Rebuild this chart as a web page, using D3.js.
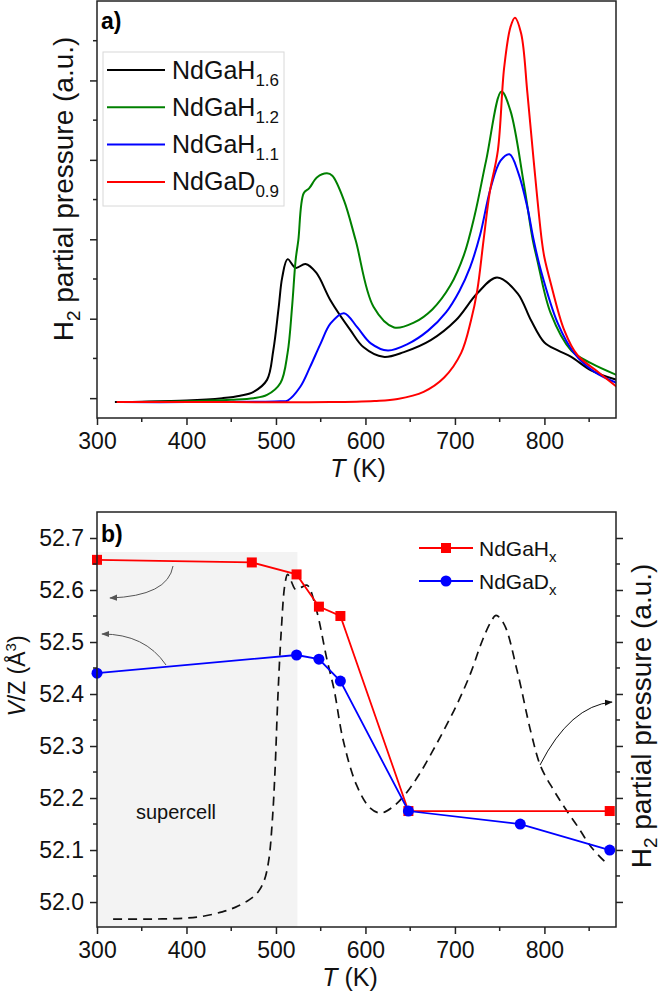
<!DOCTYPE html>
<html>
<head>
<meta charset="utf-8">
<script src="https://cdn.jsdelivr.net/npm/d3@7"></script>
<style>
  body { margin: 0; background: #fff; }
  svg { display: block; font-family: Arial, 'Liberation Sans', sans-serif; }
</style>
</head>
<body>
<div id="chart"></div>
<script>
// panel a: H2 partial pressure curves [T (K), a.u.]
const ndGaH16 = [[320, -0.05], [350, -0.045], [400, -0.03], [440, 0.0], [460, 0.03], [475, 0.08], [490, 0.23], [497, 0.6], [503, 1.14],
    [507, 1.52], [513, 1.75], [522, 1.64], [533, 1.69], [545, 1.58], [561, 1.23], [583, 0.86], [598, 0.64], [620, 0.52], [643, 0.58],
    [673, 0.73], [701, 0.98], [725, 1.32], [747, 1.52], [770, 1.32], [785, 0.98], [800, 0.7], [815, 0.6], [830, 0.52], [852, 0.35], [881, 0.23]]
const ndGaH12 = [[325, -0.05], [400, -0.04], [450, -0.02], [475, 0.0], [490, 0.04], [505, 0.19], [513, 0.57], [518, 1.15], [522, 1.74],
    [525, 1.99], [531, 2.58], [537, 2.64], [546, 2.78], [557, 2.83], [563, 2.8], [576, 2.49], [589, 1.99], [609, 1.15], [632, 0.89],
    [654, 0.95], [675, 1.12], [695, 1.42], [710, 1.8], [722, 2.3], [735, 3.0], [752, 3.86], [762, 3.62], [777, 2.7], [787, 1.99],
    [792, 1.74], [807, 1.07], [830, 0.6], [852, 0.44], [881, 0.29]]
const ndGaH11 = [[325, -0.05], [400, -0.05], [480, -0.045], [505, -0.04], [513, -0.03], [527, 0.14], [538, 0.39], [550, 0.69], [561, 0.94],
    [576, 1.07], [591, 0.89], [606, 0.69], [625, 0.6], [647, 0.68], [670, 0.85], [690, 1.08], [705, 1.35], [717, 1.65], [728, 2.05],
    [740, 2.65], [751, 2.99], [761, 3.07], [771, 2.83], [781, 2.4], [788, 1.99], [796, 1.61], [815, 0.94], [833, 0.57], [856, 0.33], [881, 0.19]]
const ndGaD09 = [[322, -0.05], [450, -0.05], [561, -0.05], [610, -0.035], [636, -0.01], [665, 0.08], [688, 0.26], [707, 0.57], [718, 0.98],
    [725, 1.36], [732, 1.99], [739, 2.6], [748, 3.12], [755, 4.16], [762, 4.67], [767, 4.79], [774, 4.59], [781, 3.84], [788, 2.99],
    [797, 1.99], [800, 1.77], [807, 1.45], [822, 0.86], [837, 0.54], [860, 0.33], [881, 0.14]]

const seriesA = [
    { name: 'NdGaH', sub: '1.6', color: '#000000', data: ndGaH16 },
    { name: 'NdGaH', sub: '1.2', color: '#008000', data: ndGaH12 },
    { name: 'NdGaH', sub: '1.1', color: '#0000ff', data: ndGaH11 },
    { name: 'NdGaD', sub: '0.9', color: '#ff0000', data: ndGaD09 }
]

// panel b: V/Z (Å^3) vs T
const hydrideT = [300, 473, 523, 548, 572, 648, 873]
const hydrideVZ = [52.658, 52.653, 52.63, 52.568, 52.55, 52.175, 52.175]
const deuterideT = [300, 523, 548, 572, 648, 773, 873]
const deuterideVZ = [52.44, 52.475, 52.467, 52.425, 52.175, 52.15, 52.1]

// panel b dashed H2 pressure curve (right axis, a.u.)
const dashedCurve = [[318, -0.33], [360, -0.33], [400, -0.31], [420, -0.27], [440, -0.19], [455, -0.1], [470, 0.04], [480, 0.19],
    [487, 0.42], [492, 0.81], [496, 1.58], [499, 2.54], [502, 3.89], [506, 5.24], [510, 6.11], [513, 6.3], [517, 6.17], [522, 6.01],
    [528, 6.05], [535, 6.09], [545, 5.63], [557, 4.66], [565, 4.08], [575, 3.12], [590, 2.25], [605, 1.81], [617, 1.71], [630, 1.82],
    [645, 2.08], [660, 2.45], [675, 2.9], [690, 3.38], [705, 3.9], [718, 4.42], [730, 5.0], [740, 5.38], [746, 5.51], [755, 5.34],
    [770, 4.41], [785, 3.26], [796, 2.6], [810, 2.16], [822, 1.83], [838, 1.43], [852, 1.06], [869, 0.75]]

const supercellRange = [300, 524]
const supercellTop = 52.673
const xTicks = [300, 400, 500, 600, 700, 800]

const width = 661, height = 994
const svg = d3.select('#chart').append('svg')
    .attr('width', width)
    .attr('height', height)
svg.append('rect').attr('width', width).attr('height', height).attr('fill', '#fff')

const axisColor = '#222'
const defs = svg.append('defs')
function arrowMarker (id, color) {
    defs.append('marker')
        .attr('id', id)
        .attr('viewBox', '0 0 10 10')
        .attr('refX', 9).attr('refY', 5)
        .attr('markerWidth', 8).attr('markerHeight', 8)
        .attr('markerUnits', 'userSpaceOnUse')
        .attr('orient', 'auto')
        .append('path')
        .attr('d', 'M0,1 L10,5 L0,9 Z')
        .attr('fill', color)
}
arrowMarker('arrGray', '#555')
arrowMarker('arrBlack', '#111')

function styleAxis (g) {
    g.selectAll('path, line').attr('stroke', axisColor).attr('stroke-width', 1.5)
    g.selectAll('text').attr('fill', '#111').style('font-size', '23px').style('font-family', 'Arial, Liberation Sans, sans-serif')
}

// minor ticks helper
function minorTicks (g, scale, values, orient, len) {
    values.forEach(v => {
        const p = scale(v)
        const l = g.append('line').attr('stroke', axisColor).attr('stroke-width', 1.5)
        if (orient === 'left') l.attr('x1', 0).attr('x2', -len).attr('y1', p).attr('y2', p)
        if (orient === 'right') l.attr('x1', 0).attr('x2', len).attr('y1', p).attr('y2', p)
        if (orient === 'bottom') l.attr('x1', p).attr('x2', p).attr('y1', 0).attr('y2', len)
    })
}

// ================= panel a =================
const xa = d3.scaleLinear().domain([300, 880]).range([97, 616])
const ya = d3.scaleLinear().domain([-0.25, 5.0]).range([418, 1])

defs.append('clipPath').attr('id', 'clipA').append('rect')
    .attr('x', xa(300)).attr('y', ya(5.0)).attr('width', xa(880) - xa(300)).attr('height', ya(-0.25) - ya(5.0))

const pa = svg.append('g')
const lineA = d3.line().x(d => xa(d[0])).y(d => ya(d[1])).curve(d3.curveCatmullRom.alpha(0.5))

pa.append('g').attr('clip-path', 'url(#clipA)')
    .selectAll('path').data(seriesA).join('path')
    .attr('d', d => lineA(d.data))
    .attr('fill', 'none')
    .attr('stroke', d => d.color)
    .attr('stroke-width', 2)

// frame
pa.append('rect').attr('x', xa(300)).attr('y', ya(5.0)).attr('width', xa(880) - xa(300)).attr('height', ya(-0.25) - ya(5.0))
    .attr('fill', 'none').attr('stroke', axisColor).attr('stroke-width', 1.5)

const axBa = pa.append('g').attr('transform', `translate(0,${ya(-0.25)})`)
    .call(d3.axisBottom(xa).tickValues(xTicks).tickSize(7).tickPadding(8).tickFormat(d3.format('d')))
axBa.select('.domain').remove()
minorTicks(axBa, xa, [350, 450, 550, 650, 750, 850], 'bottom', 4)
styleAxis(axBa)

const axLa = pa.append('g').attr('transform', `translate(${xa(300)},0)`)
    .call(d3.axisLeft(ya).tickValues([0, 1, 2, 3, 4]).tickSize(7).tickFormat(''))
axLa.select('.domain').remove()
minorTicks(axLa, ya, [0.5, 1.5, 2.5, 3.5, 4.5], 'left', 4)
styleAxis(axLa)

pa.append('text').attr('x', 101).attr('y', 29).attr('font-weight', 'bold').attr('font-size', 23).text('a)')

// y label
const yla = pa.append('text').attr('transform', 'translate(73,189) rotate(-90)')
    .attr('text-anchor', 'middle').attr('font-size', 28).attr('fill', '#111')
yla.append('tspan').text('H')
yla.append('tspan').attr('font-size', 19).attr('dy', 7).text('2')
yla.append('tspan').attr('dy', -7).text(' partial pressure (a.u.)')

const xla = pa.append('text').attr('x', 358).attr('y', 477).attr('text-anchor', 'middle').attr('font-size', 25).attr('fill', '#111')
xla.append('tspan').attr('font-style', 'italic').text('T')
xla.append('tspan').text(' (K)')

// legend a
const lega = pa.append('g')
lega.append('rect').attr('x', 103).attr('y', 52).attr('width', 181).attr('height', 154)
    .attr('fill', '#fff').attr('stroke', '#d8d8d8').attr('stroke-width', 1)
seriesA.forEach((s, i) => {
    const ly = 70 + i * 37.3
    lega.append('line').attr('x1', 107).attr('x2', 165).attr('y1', ly).attr('y2', ly)
        .attr('stroke', s.color).attr('stroke-width', 2)
    const t = lega.append('text').attr('x', 172).attr('y', ly + 8.5).attr('font-size', 25).attr('fill', '#111')
    t.append('tspan').text(s.name)
    t.append('tspan').attr('font-size', 17).attr('dy', 7).text(s.sub)
})

// ================= panel b =================
const xb = d3.scaleLinear().domain([300, 880]).range([97, 616])
const yb = d3.scaleLinear().domain([51.952, 52.75]).range([927, 512])
const yR = d3.scaleLinear().domain([-0.482, 7.5]).range([927, 512])

const pb = svg.append('g')

// supercell shading
pb.append('rect')
    .attr('x', xb(supercellRange[0])).attr('y', yb(supercellTop))
    .attr('width', xb(supercellRange[1]) - xb(supercellRange[0]))
    .attr('height', yb(51.952) - yb(supercellTop))
    .attr('fill', '#f3f3f3')

pb.append('text').attr('x', 136).attr('y', 819).attr('font-size', 20).attr('fill', '#111').text('supercell')

// dashed H2 curve
const lineR = d3.line().x(d => xb(d[0])).y(d => yR(d[1])).curve(d3.curveCatmullRom.alpha(0.5))
pb.append('path').attr('d', lineR(dashedCurve))
    .attr('fill', 'none').attr('stroke', '#111').attr('stroke-width', 1.7).attr('stroke-dasharray', '9,6')

// arrows
const arrows = [
    { path: 'M173,566 Q168,596 110,598', marker: 'arrGray', color: '#555' },
    { path: 'M166,665 Q145,634 102,634', marker: 'arrGray', color: '#555' },
    { path: 'M540,765 Q570,706 612,702', marker: 'arrBlack', color: '#111' }
]
pb.selectAll('path.arrow').data(arrows).join('path').attr('class', 'arrow')
    .attr('d', d => d.path).attr('fill', 'none').attr('stroke', d => d.color).attr('stroke-width', 1)
    .attr('marker-end', d => `url(#${d.marker})`)

const lineB = d3.line().x(d => xb(d[0])).y(d => yb(d[1]))
const hydride = hydrideT.map((t, i) => [t, hydrideVZ[i]])
const deuteride = deuterideT.map((t, i) => [t, deuterideVZ[i]])

pb.append('path').attr('d', lineB(hydride)).attr('fill', 'none').attr('stroke', '#ff0000').attr('stroke-width', 1.8)
pb.selectAll('rect.sq').data(hydride).join('rect').attr('class', 'sq')
    .attr('x', d => xb(d[0]) - 5).attr('y', d => yb(d[1]) - 5).attr('width', 10).attr('height', 10)
    .attr('fill', '#ff0000')

pb.append('path').attr('d', lineB(deuteride)).attr('fill', 'none').attr('stroke', '#0000ff').attr('stroke-width', 1.8)
pb.selectAll('circle.dot').data(deuteride).join('circle').attr('class', 'dot')
    .attr('cx', d => xb(d[0])).attr('cy', d => yb(d[1])).attr('r', 5.5)
    .attr('fill', '#0000ff')

// frame
pb.append('rect').attr('x', xb(300)).attr('y', yb(52.75)).attr('width', xb(880) - xb(300)).attr('height', yb(51.952) - yb(52.75))
    .attr('fill', 'none').attr('stroke', axisColor).attr('stroke-width', 1.5)

const axBb = pb.append('g').attr('transform', `translate(0,${yb(51.952)})`)
    .call(d3.axisBottom(xb).tickValues(xTicks).tickSize(7).tickPadding(8).tickFormat(d3.format('d')))
axBb.select('.domain').remove()
minorTicks(axBb, xb, [350, 450, 550, 650, 750, 850], 'bottom', 4)
styleAxis(axBb)

const axLb = pb.append('g').attr('transform', `translate(${xb(300)},0)`)
    .call(d3.axisLeft(yb).tickValues([52.0, 52.1, 52.2, 52.3, 52.4, 52.5, 52.6, 52.7]).tickSize(7).tickPadding(6).tickFormat(d3.format('.1f')))
axLb.select('.domain').remove()
minorTicks(axLb, yb, [52.05, 52.15, 52.25, 52.35, 52.45, 52.55, 52.65], 'left', 4)
styleAxis(axLb)

const axRb = pb.append('g').attr('transform', `translate(${xb(880)},0)`)
    .call(d3.axisRight(yR).tickValues([0, 1, 2, 3, 4, 5, 6, 7]).tickSize(7).tickFormat(''))
axRb.select('.domain').remove()
minorTicks(axRb, yR, [0.5, 1.5, 2.5, 3.5, 4.5, 5.5, 6.5], 'right', 4)
styleAxis(axRb)

pb.append('text').attr('x', 101).attr('y', 542).attr('font-weight', 'bold').attr('font-size', 23).text('b)')

const ylb = pb.append('text').attr('transform', 'translate(25,676) rotate(-90)')
    .attr('text-anchor', 'middle').attr('font-size', 23).attr('fill', '#111')
ylb.append('tspan').attr('font-style', 'italic').text('V')
ylb.append('tspan').text('/Z (Å')
ylb.append('tspan').attr('font-size', 15).attr('dy', -9).text('3')
ylb.append('tspan').attr('dy', 9).text(')')

const yrb = pb.append('text').attr('transform', 'translate(651,716) rotate(-90)')
    .attr('text-anchor', 'middle').attr('font-size', 28).attr('fill', '#111')
yrb.append('tspan').text('H')
yrb.append('tspan').attr('font-size', 19).attr('dy', 6).text('2')
yrb.append('tspan').attr('dy', -6).text(' partial pressure (a.u.)')

const xlb = pb.append('text').attr('x', 350).attr('y', 986).attr('text-anchor', 'middle').attr('font-size', 25).attr('fill', '#111')
xlb.append('tspan').attr('font-style', 'italic').text('T')
xlb.append('tspan').text(' (K)')

// legend b
const legb = pb.append('g')
const legItems = [
    { name: 'NdGaH', color: '#ff0000', shape: 'square' },
    { name: 'NdGaD', color: '#0000ff', shape: 'circle' }
]
legItems.forEach((s, i) => {
    const ly = 548 + i * 33
    legb.append('line').attr('x1', 419).attr('x2', 473).attr('y1', ly).attr('y2', ly)
        .attr('stroke', s.color).attr('stroke-width', 1.8)
    if (s.shape === 'square') {
        legb.append('rect').attr('x', 441).attr('y', ly - 5).attr('width', 10).attr('height', 10).attr('fill', s.color)
    } else {
        legb.append('circle').attr('cx', 446).attr('cy', ly).attr('r', 5.5).attr('fill', s.color)
    }
    const t = legb.append('text').attr('x', 479).attr('y', ly + 8).attr('font-size', 21).attr('fill', '#111')
    t.append('tspan').text(s.name)
    t.append('tspan').attr('font-size', 15).attr('dy', 6).text('x')
})
</script>
</body>
</html>
